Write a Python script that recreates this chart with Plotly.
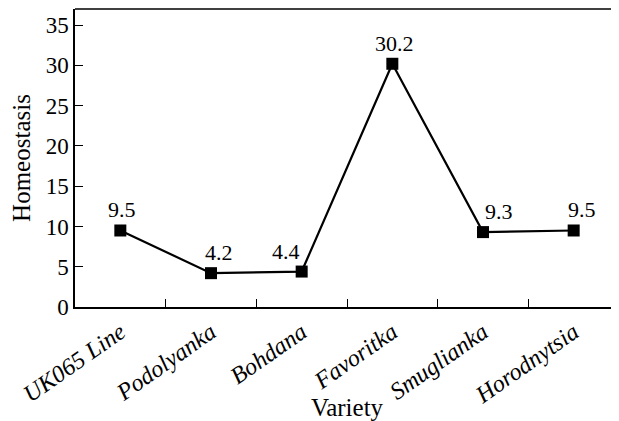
import plotly.graph_objects as go

varieties = ["UK065 Line", "Podolyanka", "Bohdana", "Favoritka", "Smuglianka", "Horodnytsia"]
homeostasis = [9.5, 4.2, 4.4, 30.2, 9.3, 9.5]
value_labels = ["9.5", "4.2", "4.4", "30.2", "9.3", "9.5"]
label_anchor = ["center", "center", "right", "center", "left", "center"]
label_xshift = [2, 8, 0, 2, 0, 8]

FONT = "Liberation Serif"

fig = go.Figure()
fig.add_trace(go.Scatter(
    x=varieties,
    y=homeostasis,
    mode="lines+markers",
    line=dict(color="black", width=2.2),
    marker=dict(symbol="square", size=12, color="black"),
    cliponaxis=False,
    showlegend=False,
))

for v, val, lab, anc, xs in zip(varieties, homeostasis, value_labels, label_anchor, label_xshift):
    fig.add_annotation(x=v, y=val, text=lab, showarrow=False, xanchor=anc, yanchor="bottom",
                       xshift=xs, yshift=6, font=dict(family=FONT, size=22, color="black"))

fig.update_layout(
    width=611,
    height=413,
    margin=dict(l=67, r=0, t=1, b=114),
    paper_bgcolor="white",
    plot_bgcolor="white",
    font=dict(family=FONT, size=21, color="black"),
    xaxis=dict(
        type="category",
        range=[-0.5, 5.5],
        tickson="boundaries",
        ticks="inside",
        ticklen=8,
        tickcolor="black",
        showline=True,
        linecolor="black",
        linewidth=1.5,
        showgrid=False,
        automargin=False,
        tickangle=-35,
        labelalias={v: "<i>" + v + "</i>" for v in varieties},
        tickfont=dict(family=FONT, size=24),
        title=dict(text="Variety", standoff=0),
    ),
    yaxis=dict(
        range=[0, 37],
        dtick=5,
        ticks="inside",
        ticklen=8,
        tickcolor="black",
        showline=True,
        linecolor="black",
        linewidth=1.5,
        showgrid=False,
        zeroline=False,
        automargin=False,
        tickfont=dict(family=FONT, size=23),
        title=dict(text="Homeostasis", standoff=10),
    ),
    shapes=[dict(type="line", xref="paper", yref="paper", x0=0, x1=1.02, y0=1, y1=1,
                 line=dict(color="black", width=1.5))],
)

fig.write_html("out.html")
